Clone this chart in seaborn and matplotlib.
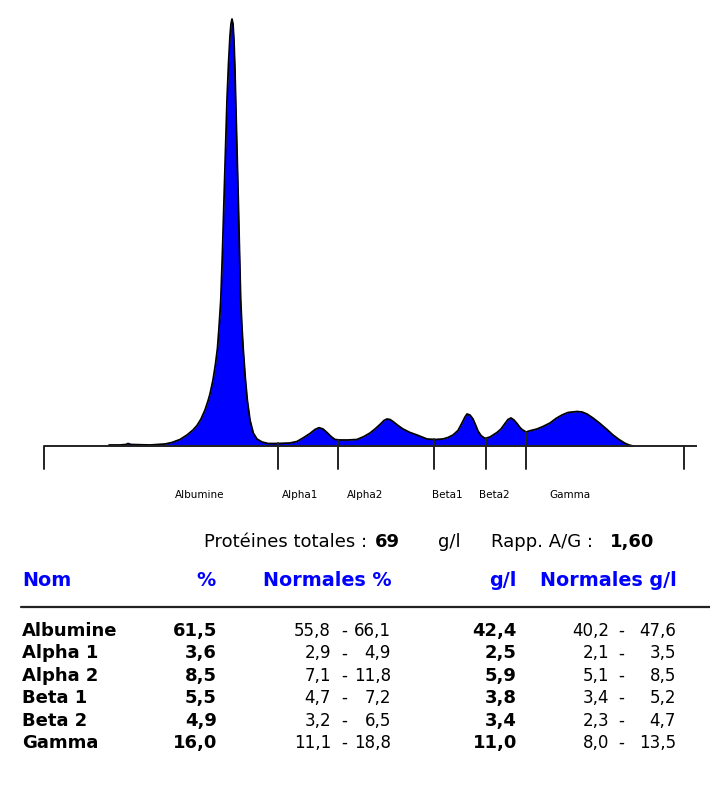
import numpy as np
import matplotlib
matplotlib.use("Agg")
import matplotlib.pyplot as plt
import seaborn as sns

# Courbe d'électrophorèse (position de migration, intensité)
position = [109, 120, 126, 128, 131, 150, 165, 172, 180, 187, 193, 197, 201, 205,
            208, 210, 213, 215.5, 217.5, 219, 220.8, 222.5, 224, 225.5, 227, 228.5,
            230, 231, 232, 233, 234, 235, 235.7, 237, 238.3, 239.5, 240.7, 242,
            243.3, 245.3, 247.3, 250, 253.3, 257, 262, 268, 277, 290, 297, 303,
            310, 315, 319, 323, 327, 331, 335, 340, 348, 357, 364, 370, 375, 380,
            384, 387, 390, 393, 398, 403, 410, 417, 422, 427, 435, 443, 448, 453,
            458, 462, 465, 467, 470, 473, 476, 478, 481, 485, 490, 497, 501, 505,
            508, 511, 514, 517, 520, 522, 526, 531, 537, 543, 550, 556, 562, 568,
            577, 582, 587, 593, 600, 607, 613, 619, 625, 629, 633]
intensite = [1, 1, 1.5, 2.5, 1.5, 1, 2, 3.5, 6.5, 11, 16, 20.5, 27, 36,
             45, 52, 66, 82, 98, 118, 146, 195, 246, 296, 346, 382,
             410, 422, 427, 422, 405, 375, 346, 296, 246, 195, 146, 118,
             96, 68, 46, 26, 13, 7, 4, 2.5, 2.5, 3, 4.5, 8,
             12.5, 16.5, 18.3, 17, 13.5, 9.5, 6.5, 6, 6, 6.5, 9.5, 13, 17, 21.5,
             25.5, 27, 26.5, 24.5, 20.5, 17, 13.5, 11, 9, 7, 6.5, 7, 8.5, 11,
             15.5, 23, 29, 32, 31, 27, 20, 15, 10.5, 7.5, 9, 13.5, 17, 22.5,
             26.5, 28, 26, 22.5, 18.5, 16.5, 14, 15.5, 17, 19.5, 23, 27.5, 31, 33.5,
             34.5, 34, 32, 28, 22.5, 16.5, 11, 6.5, 2.7, 1, 0]

# bornes des fractions et limites de l'échelle
bornes = [278, 338, 434, 486, 526]
limites = [44, 684]
fractions = ["Albumine", "Alpha1", "Alpha2", "Beta1", "Beta2", "Gamma"]
pos_fractions = [200, 300, 365, 447, 494, 570]

# Tableau des résultats
noms = ["Albumine", "Alpha 1", "Alpha 2", "Beta 1", "Beta 2", "Gamma"]
pourcent = [61.5, 3.6, 8.5, 5.5, 4.9, 16.0]
norm_pct_bas = [55.8, 2.9, 7.1, 4.7, 3.2, 11.1]
norm_pct_haut = [66.1, 4.9, 11.8, 7.2, 6.5, 18.8]
g_l = [42.4, 2.5, 5.9, 3.8, 3.4, 11.0]
norm_gl_bas = [40.2, 2.1, 5.1, 3.4, 2.3, 8.0]
norm_gl_haut = [47.6, 3.5, 8.5, 5.2, 4.7, 13.5]
proteines_totales = 69
rapport_ag = 1.60


def fr(v, d=1):
    return f"{v:.{d}f}".replace(".", ",")


sns.set_style("white")
plt.rcParams["font.family"] = ["DejaVu Sans"]
plt.rcParams["text.color"] = "black"

W, H = 710, 811
fig = plt.figure(figsize=(W / 100, H / 100), dpi=100)

# --- profil ---
ax = fig.add_axes([0, 1 - 470 / H, 1, 470 / H])
ax.fill_between(position, intensite, 0, color="#0000ff", lw=0)
sns.lineplot(x=position, y=intensite, ax=ax, color="black", linewidth=1.3,
             sort=False, estimator=None)
ax.plot([44, 697], [0, 0], color="#222222", lw=1.4, solid_capstyle="butt")
for b in bornes:
    top = np.interp(b, position, intensite)
    ax.plot([b, b], [top, -23], color="#222222", lw=1.4)
for b in limites:
    ax.plot([b, b], [0, -23], color="#222222", lw=1.4)
ax.set_xlim(0, W)
ax.set_ylim(-24, 446)
ax.axis("off")

# --- textes ---
tx = fig.add_axes([0, 0, 1, 1], zorder=-1)
tx.set_xlim(0, W)
tx.set_ylim(H, 0)
tx.axis("off")

for nom, x in zip(fractions, pos_fractions):
    tx.text(x, 498, nom, fontsize=7.5, ha="center", va="baseline")

fs = 13
tx.text(204, 547, "Protéines totales :", fontsize=fs, va="baseline")
tx.text(375, 547, str(proteines_totales), fontsize=fs, fontweight="bold", va="baseline")
tx.text(438, 547, "g/l", fontsize=fs, va="baseline")
tx.text(491, 547, "Rapp. A/G :", fontsize=fs, va="baseline")
tx.text(610, 547, fr(rapport_ag, 2), fontsize=fs, fontweight="bold", va="baseline")

bleu = "#0000ff"
hdr = dict(fontsize=13.8, fontweight="bold", color=bleu, va="baseline")
tx.text(22, 586, "Nom", ha="left", **hdr)
tx.text(216, 586, "%", ha="right", **hdr)
tx.text(263, 586, "Normales %", ha="left", **hdr)
tx.text(516, 586, "g/l", ha="right", **hdr)
tx.text(677, 586, "Normales g/l", ha="right", **hdr)

tx.plot([21, 710], [606.5, 606.5], color="#222222", lw=1.6)

fn = 12
for i, nom in enumerate(noms):
    y = 636 + i * 22.4
    tx.text(22, y, nom, fontsize=fs, fontweight="bold", ha="left", va="baseline")
    tx.text(217, y, fr(pourcent[i]), fontsize=fs, fontweight="bold", ha="right", va="baseline")
    tx.text(331, y, fr(norm_pct_bas[i]), fontsize=fn, ha="right", va="baseline")
    tx.text(344, y, "-", fontsize=fn, ha="center", va="baseline")
    tx.text(391, y, fr(norm_pct_haut[i]), fontsize=fn, ha="right", va="baseline")
    tx.text(517, y, fr(g_l[i]), fontsize=fs, fontweight="bold", ha="right", va="baseline")
    tx.text(609, y, fr(norm_gl_bas[i]), fontsize=fn, ha="right", va="baseline")
    tx.text(621.5, y, "-", fontsize=fn, ha="center", va="baseline")
    tx.text(676, y, fr(norm_gl_haut[i]), fontsize=fn, ha="right", va="baseline")

fig.savefig("out.png", dpi=100, facecolor="white")
